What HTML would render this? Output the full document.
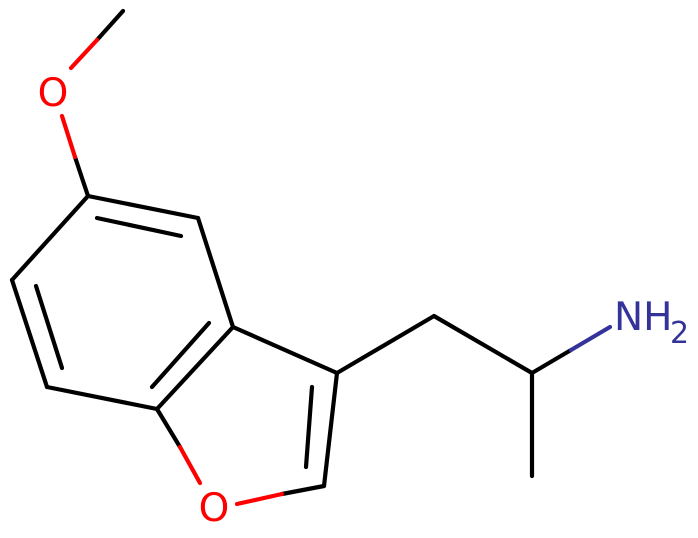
<!DOCTYPE html>
<html><head><meta charset="utf-8"><style>html,body{margin:0;padding:0;background:#fff}svg{display:block}</style></head>
<body>
<svg width="698" height="538" viewBox="0 0 698 538" xmlns="http://www.w3.org/2000/svg">
<g stroke-width="4.2" stroke-linecap="round" fill="none">
<g stroke="#000">
<line x1="123" y1="11" x2="97" y2="40"/>
<line x1="75" y1="157" x2="88" y2="196"/>
<line x1="88" y1="196" x2="198" y2="218"/>
<line x1="97" y1="218" x2="181" y2="236"/>
<line x1="198" y1="218" x2="233" y2="327"/>
<line x1="233" y1="327" x2="157" y2="409"/>
<line x1="209" y1="323" x2="152" y2="387"/>
<line x1="157" y1="409" x2="47" y2="387"/>
<line x1="47" y1="387" x2="12" y2="280"/>
<line x1="36" y1="286" x2="62" y2="368"/>
<line x1="12" y1="280" x2="88" y2="196"/>
<line x1="157" y1="409" x2="180" y2="447"/>
<line x1="233" y1="327" x2="337" y2="373"/>
<line x1="337" y1="373" x2="324" y2="486"/>
<line x1="312" y1="387" x2="306" y2="467"/>
<line x1="324" y1="486" x2="282" y2="494"/>
<line x1="337" y1="373" x2="434" y2="316"/>
<line x1="434" y1="316" x2="532" y2="373"/>
<line x1="532" y1="373" x2="532" y2="476"/>
<line x1="532" y1="373" x2="571" y2="350"/>
</g>
<g stroke="#f00">
<line x1="97" y1="40" x2="71" y2="68"/>
<line x1="62" y1="116" x2="75" y2="157"/>
<line x1="180" y1="447" x2="200" y2="483"/>
<line x1="282" y1="494" x2="237" y2="504"/>
</g>
<line x1="571" y1="350" x2="610" y2="327" stroke="#33339a"/>
</g>
<g font-family="DejaVu Sans, Liberation Sans, sans-serif" font-size="39">
<text x="53" y="106" fill="#f00" text-anchor="middle">O</text>
<text x="214" y="521" fill="#f00" text-anchor="middle">O</text>
<text x="614" y="330" fill="#33339a">NH</text>
<text x="670" y="343" fill="#33339a" font-size="30">2</text>
</g>
</svg>
</body></html>
